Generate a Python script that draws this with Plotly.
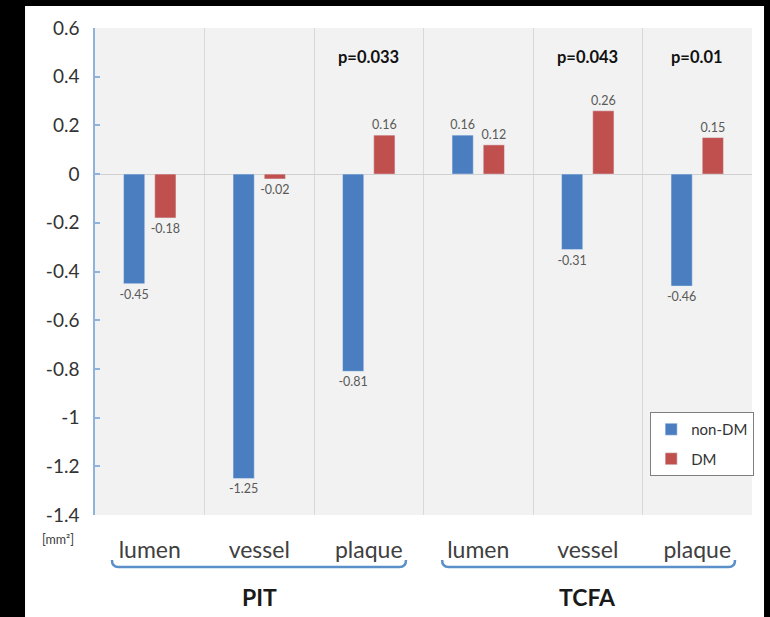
import plotly.graph_objects as go

# ---- data ----
categories = ["lumen", "vessel", "plaque", "lumen", "vessel", "plaque"]
groups = ["PIT", "TCFA"]
non_dm = [-0.45, -1.25, -0.81, 0.16, -0.31, -0.46]
dm = [-0.18, -0.02, 0.16, 0.12, 0.26, 0.15]
p_labels = ["", "", "p=0.033", "", "p=0.043", "p=0.01"]
y_ticks = [0.6, 0.4, 0.2, 0, -0.2, -0.4, -0.6, -0.8, -1, -1.2, -1.4]
y_ticktext = ["0.6", "0.4", "0.2", "0", "-0.2", "-0.4", "-0.6", "-0.8", "-1", "-1.2", "-1.4"]

FONT = "Lato"
xs = list(range(len(categories)))

fig = go.Figure()
fig.add_trace(go.Bar(
    x=xs, y=non_dm, name="non-DM", marker_color="#4a7ec0", legendgroup="a",
    text=[f"{v:.2f}" for v in non_dm], textposition="outside",
    textfont=dict(size=12.5, color="#595959", family=FONT), constraintext="none",
    cliponaxis=False,
))
fig.add_trace(go.Bar(
    x=xs, y=dm, name="DM", marker_color="#c0504d", legendgroup="b",
    text=[f"{v:.2f}" for v in dm], textposition="outside",
    textfont=dict(size=12.5, color="#595959", family=FONT), constraintext="none",
    cliponaxis=False,
))

# p-value annotations
for i, p in enumerate(p_labels):
    if p:
        fig.add_annotation(x=i, y=0.48, text=f"<b>{p}</b>", showarrow=False,
                           yanchor="middle", xanchor="center",
                           font=dict(size=16.5, color="#111111", family=FONT))

# group labels
for gi, g in enumerate(groups):
    fig.add_annotation(x=1 + 3 * gi, y=-0.168, yref="paper", text=f"<b>{g}</b>",
                       showarrow=False, yanchor="middle", xanchor="center",
                       font=dict(size=23, color="#1a1a1a", family=FONT))

fig.add_annotation(x=-0.056, y=-0.051, xref="paper", yref="paper", text="[mm²]",
                   showarrow=False, yanchor="middle", xanchor="center",
                   font=dict(size=12.5, color="#404040", family=FONT))

shapes = []
# brackets
for (a, b) in [(-0.345, 2.34), (2.67, 5.345)]:
    yb, ye = -0.1068, -0.0924
    d = 0.06
    shapes.append(dict(
        type="path", xref="x", yref="paper",
        path=f"M {a},{ye} Q {a},{yb} {a+d},{yb} L {b-d},{yb} Q {b},{yb} {b},{ye}",
        line=dict(color="#5b8fc9", width=2.5)))
# black frame
shapes += [
    dict(type="rect", xref="paper", yref="paper", x0=-0.16, x1=-0.1065, y0=-0.23, y1=1.08,
         fillcolor="black", line_width=0, layer="above"),
    dict(type="rect", xref="paper", yref="paper", x0=-0.16, x1=1.04, y0=1.0452, y1=1.08,
         fillcolor="black", line_width=0, layer="above"),
    dict(type="rect", xref="paper", yref="paper", x0=1.0183, x1=1.04, y0=-0.23, y1=1.08,
         fillcolor="black", line_width=0, layer="above"),
]

fig.update_layout(
    width=770, height=617,
    margin=dict(l=95, r=18, t=28, b=102),
    paper_bgcolor="white", plot_bgcolor="#f2f2f2",
    barmode="group", bargap=0.43, bargroupgap=0.32,
    font=dict(family=FONT, color="#404040"),
    shapes=shapes,
    legend=dict(x=0.845, y=0.2115, xanchor="left", yanchor="top",
                bgcolor="white", bordercolor="#7f7f7f", borderwidth=1,
                font=dict(size=15, color="#333333", family=FONT),
                itemwidth=30, tracegroupgap=7),
    showlegend=True,
)
fig.update_xaxes(
    range=[-0.5, 5.5], tickmode="array", tickvals=xs, ticktext=categories,
    ticks="outside", ticklen=14, tickcolor="rgba(0,0,0,0)",
    tickfont=dict(size=23, color="#404040", family=FONT),
    showgrid=False, zeroline=False, showline=False,
    minor=dict(tick0=0.5, dtick=1, showgrid=True, gridcolor="#d9d9d9", gridwidth=1),
)
fig.update_yaxes(
    range=[-1.4, 0.6], tickmode="array", tickvals=y_ticks, ticktext=y_ticktext,
    ticks="inside", ticklen=5, tickcolor="#8fb4dc", tickwidth=1.5,
    showline=True, linecolor="#8fb4dc", linewidth=1.5,
    showgrid=False, zeroline=True, zerolinecolor="#d0d0d0", zerolinewidth=1,
    tickfont=dict(size=19, color="#333333", family=FONT), ticklabelstandoff=10,
)

fig.write_html("out.html", config={"displayModeBar": False},
               post_script="document.body.style.margin='0';")
